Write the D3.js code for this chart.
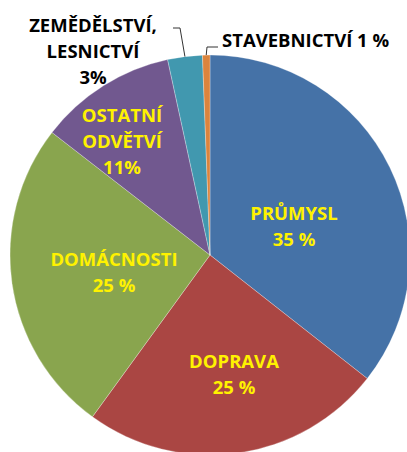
<html>
<script src="https://d3js.org/d3.v7.min.js"></script>
<style>
    body { margin: 0; background: #fff; }
    .lbl { font-family: "Open Sans", sans-serif; font-weight: 700; font-size: 18.5px; }
</style>
<body>
<svg id="chart" width=407 height=452></svg>
<script>
// slice shares (clockwise from 12 o'clock)
var categories = ["PRŮMYSL", "DOPRAVA", "DOMÁCNOSTI", "OSTATNÍ ODVĚTVÍ", "ZEMĚDĚLSTVÍ, LESNICTVÍ", "STAVEBNICTVÍ"];
var values = [35.6, 24.4, 25.5, 11.1, 2.8, 0.6];
// label texts as printed on the chart
var labelLines = [
    ["PRŮMYSL", "35 %"],
    ["DOPRAVA", "25 %"],
    ["DOMÁCNOSTI", "25 %"],
    ["OSTATNÍ", "ODVĚTVÍ", "11%"],
    ["ZEMĚDĚLSTVÍ,", "LESNICTVÍ", "3%"],
    ["STAVEBNICTVÍ 1 %"]
];
var colors = ["#4572a7", "#aa4643", "#89a54e", "#71588f", "#4198af", "#db843d"];

var cx = 210, cy = 255, r = 200, lineH = 26;

// label block placement relative to pie centre
var labelLayout = [
    {dx: 84, dy: -35, anchor: "middle", fill: "#fff200"},
    {dx: 234 - cx, dy: 113, anchor: "middle", fill: "#fff200"},
    {dx: -96, dy: 11, anchor: "middle", fill: "#fff200"},
    {dx: -88, dy: -133, anchor: "middle", fill: "#fff200"},
    {dx: -117, dy: -223, anchor: "middle", fill: "#000"},
    {dx: 12, dy: -208, anchor: "start", fill: "#000"}
];

var svg = d3.select("#chart");
var g = svg.append("g").attr("transform", "translate(" + cx + "," + cy + ")");

var pie = d3.pie().sort(null).value(function(d) { return d; });
var arcs = pie(values);

var arc = d3.arc().innerRadius(0).outerRadius(r);

g.selectAll("path.slice")
    .data(arcs)
    .enter().append("path")
    .attr("class", "slice")
    .attr("d", arc)
    .attr("fill", function(d, i) { return colors[i]; })
    .attr("stroke", "rgba(255,255,255,0.35)")
    .attr("stroke-width", 0.8);

// leader lines for the two small slices
var edge = d3.arc().innerRadius(r).outerRadius(r);
var leaders = [
    {i: 4, elbow: [-30, -227], end: [-37, -227]},
    {i: 5, elbow: [-3, -208], end: [8, -208]}
];
leaders.forEach(function(l) {
    var p = edge.centroid(arcs[l.i]);
    g.append("path")
        .attr("d", d3.line()([p, l.elbow, l.end]))
        .attr("fill", "none")
        .attr("stroke", "#333")
        .attr("stroke-width", 1);
});

// data labels
labelLines.forEach(function(lines, i) {
    var L = labelLayout[i];
    var t = g.append("text")
        .attr("class", "lbl")
        .attr("fill", L.fill)
        .attr("text-anchor", L.anchor);
    lines.forEach(function(s, k) {
        t.append("tspan")
            .attr("x", L.dx)
            .attr("y", L.dy + k * lineH)
            .text(s);
    });
});
</script>
</body>
</html>
